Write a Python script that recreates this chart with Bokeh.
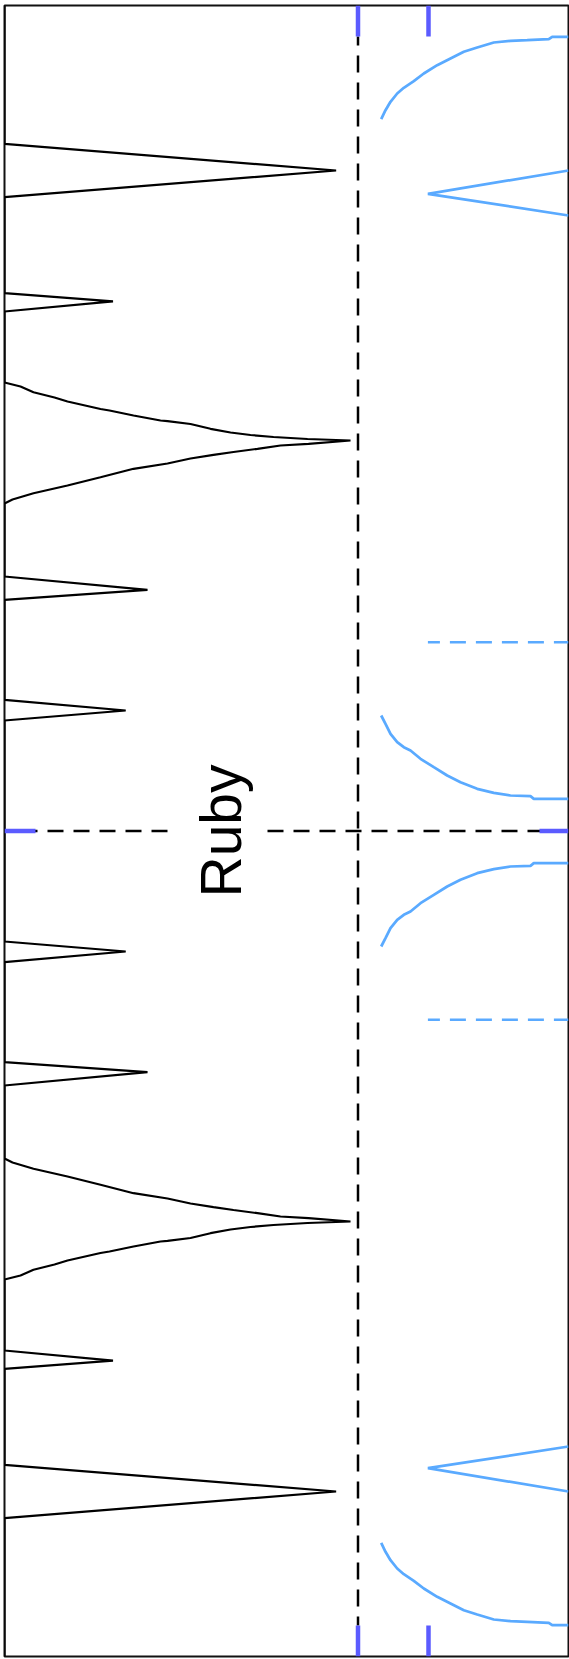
import math
from bokeh.plotting import figure
from bokeh.models import Range1d
from bokeh.core.properties import value
from bokeh.embed import file_html
from bokeh.resources import INLINE

# ---- data (units: frame pixels of the reference, y measured downward) ----
W, H = 564, 1651
MID = H / 2.0

# black profile, top half (x, y)
black_x = [0, 0, 331.6, 0, 0, 108.5, 0, 0,
           16, 29, 50, 63, 96, 105, 129, 156, 163, 186, 206, 226, 246, 269, 303, 346,
           304, 276, 253, 229, 209, 186, 163, 129, 96, 63, 29, 8, 0,
           0, 143, 0, 0, 121.2, 0, 0]
black_y = [0, 138.3, 165, 191.7, 287.7, 295.9, 306, 377,
           381, 386.7, 392, 396, 403.5, 405, 410, 415, 415.7, 418.5, 423.3, 427, 429.5, 431.5, 433.5, 435,
           438.3, 440, 443.3, 446.5, 449.3, 453, 458, 463.3, 471.7, 480, 487.7, 494, 498,
           571, 584.3, 594.3, 694.3, 705, 715, MID]

# blue curve near the top edge
blue_top_x = [376.7, 381, 386, 392.7, 399.3, 409.3, 419.3, 432.7, 446, 459.3, 472.7, 489.3, 506, 522.7, 544.3, 547.7, 564]
blue_top_y = [113.7, 104.7, 96.3, 88, 82.3, 75.7, 68, 59.7, 53, 46.3, 42, 37, 35.3, 34.7, 33.7, 31.3, 31.3]

# blue curve near the middle
blue_mid_x = [376.7, 381, 386, 392.7, 399.3, 406, 416, 429.3, 442.7, 456, 472.7, 489.3, 506, 526, 529.3, 564]
blue_mid_y = [710, 718.3, 728.3, 736.7, 741.7, 745, 753.3, 761.7, 770, 776.7, 783.3, 787.3, 790, 790.7, 793.3, 793.3]

# blue wedge at the right edge
wedge_x = [564, 423.4, 564]
wedge_y = [165, 188.3, 210]

# blue dashed reference level
blue_dash_x = [423.4, 564]
blue_dash_y = 636.7

ref_x = 353.5          # black dashed vertical
mark_x = [353.5, 424]  # blue marks on top/bottom edges
label = "Ruby"


def mirror(ys):
    return [2 * MID - y for y in ys]


BLACK = "#000000"
BLUE = "#5aaaff"
MARK = "#5b5bff"

p = figure(width=569, height=1659, x_range=Range1d(0, W), y_range=Range1d(H, 0),
           toolbar_location=None, output_backend="svg",
           x_axis_type=None, y_axis_type=None,
           min_border_left=4, min_border_right=1, min_border_top=5, min_border_bottom=3)
p.grid.visible = False
p.outline_line_color = "#111111"
p.outline_line_width = 2
p.background_fill_color = "white"
p.border_fill_color = "white"

# black profile, full (top half + mirrored bottom half)
bx = black_x + black_x[::-1]
by = black_y + mirror(black_y)[::-1]
p.line(bx, by, line_color=BLACK, line_width=2.2)

# dashed black vertical (two halves, symmetric dash phase)
p.line([ref_x, ref_x], [31, MID], line_color=BLACK, line_width=2.5, line_dash="17 10", line_dash_offset=8)
p.line([ref_x, ref_x], [H - 31, MID], line_color=BLACK, line_width=2.5, line_dash="17 10", line_dash_offset=8)

# dashed black horizontal, interrupted by the label
p.line([0, 172], [MID, MID], line_color=BLACK, line_width=2.5, line_dash="16 10", line_dash_offset=9)
p.line([263, W], [MID, MID], line_color=BLACK, line_width=2.5, line_dash="16 10", line_dash_offset=0)

# blue curves
for xs, ys in [(blue_top_x, blue_top_y), (blue_mid_x, blue_mid_y), (wedge_x, wedge_y)]:
    p.line(xs, ys, line_color=BLUE, line_width=2.75)
    p.line(xs, mirror(ys), line_color=BLUE, line_width=2.75)

for yy in [blue_dash_y, 2 * MID - blue_dash_y]:
    p.line(blue_dash_x, [yy, yy], line_color=BLUE, line_width=2.5, line_dash="16 10", line_dash_offset=4)

# blue edge marks
for mx in mark_x:
    p.line([mx, mx], [0, 31], line_color=MARK, line_width=4.5)
    p.line([mx, mx], [H, H - 31], line_color=MARK, line_width=4.5)
p.line([0, 31], [MID, MID], line_color=MARK, line_width=4.5)
p.line([535, W], [MID, MID], line_color=MARK, line_width=4.5)

# label
p.text(x=[216], y=[MID], text=[label], angle=math.pi / 2,
       text_align="center", text_baseline="alphabetic",
       text_font=value("Liberation Sans"), text_font_size="57px", text_color=BLACK)

open("out.html", "w").write(file_html(p, INLINE))
